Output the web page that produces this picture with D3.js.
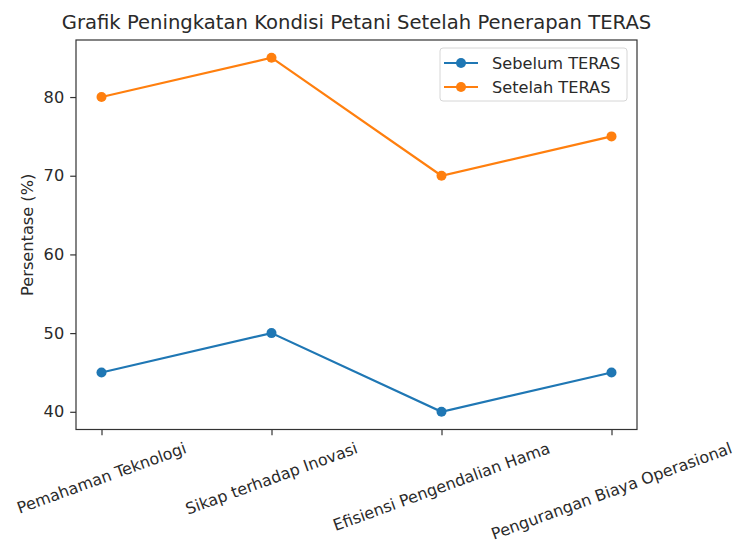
<!DOCTYPE html>
<html>
<head>
<meta charset="utf-8">
<script src="https://cdn.jsdelivr.net/npm/d3@7"></script>
<style>
body { margin: 0; background: #fff; }
text { font-family: "DejaVu Sans", sans-serif; fill: #2a2a2a; }
</style>
</head>
<body>
<div id="canvas"></div>
<script>
// DATA
var categories = ["Pemahaman Teknologi", "Sikap terhadap Inovasi", "Efisiensi Pengendalian Hama", "Pengurangan Biaya Operasional"];
var sebelum = [45, 50, 40, 45];
var setelah = [80, 85, 70, 75];
var y_ticks = [40, 50, 60, 70, 80];
var series_names = ["Sebelum TERAS", "Setelah TERAS"];
var series_colors = ["#1f77b4", "#ff7f0e"];

// STRUCTURE
var W = 737, H = 544;
var box = { left: 76, right: 637, top: 40, bottom: 429.5 };
var font_size = 16.2;
var xlabel_size = 15.9;
var tick_len = 5.8;

var svg = d3.select("#canvas").append("svg")
  .attr("width", W)
  .attr("height", H);

// matplotlib style 5% margins
var xScale = d3.scaleLinear()
  .domain([-0.15, categories.length - 1 + 0.15])
  .range([box.left, box.right]);

var yScale = d3.scaleLinear()
  .domain([40 - 2.25, 85 + 2.25])
  .range([box.bottom, box.top]);

// axes
var yAxis = d3.axisLeft(yScale)
  .tickValues(y_ticks)
  .tickSize(tick_len)
  .tickPadding(6);

var yg = svg.append("g")
  .attr("transform", `translate(${box.left},0)`)
  .call(yAxis);
yg.select(".domain").remove();
yg.selectAll("line").attr("stroke", "#333").attr("stroke-width", 1.2);
yg.selectAll("text").style("font-size", font_size + "px").attr("fill", "#2a2a2a").style("font-family", "DejaVu Sans");

var xAxis = d3.axisBottom(xScale)
  .tickValues(d3.range(categories.length))
  .tickSize(tick_len)
  .tickFormat("");

var xg = svg.append("g")
  .attr("transform", `translate(0,${box.bottom})`)
  .call(xAxis);
xg.select(".domain").remove();
xg.selectAll("line").attr("stroke", "#333").attr("stroke-width", 1.2);

// rotated x labels: centred on the tick, top of rotated box below tick
var angle = 20 * Math.PI / 180;
var label_top = 441;
categories.forEach(function (c, i) {
  var t = svg.append("text")
    .text(c)
    .style("font-size", xlabel_size + "px")
    .attr("text-anchor", "middle")
    .attr("dy", "0.35em");
  var w = t.node().getComputedTextLength();
  var h = xlabel_size * 0.85;
  var half = (w * Math.sin(angle) + h * Math.cos(angle)) / 2;
  t.attr("transform", `translate(${xScale(i)},${label_top + half}) rotate(-20)`);
});

// frame
svg.append("rect")
  .attr("x", box.left)
  .attr("y", box.top)
  .attr("width", box.right - box.left)
  .attr("height", box.bottom - box.top)
  .attr("fill", "none")
  .attr("stroke", "#333")
  .attr("stroke-width", 1.2);

// lines
var line = d3.line()
  .x((d, i) => xScale(i))
  .y(d => yScale(d));

[sebelum, setelah].forEach(function (s, k) {
  svg.append("path")
    .datum(s)
    .attr("d", line)
    .attr("fill", "none")
    .attr("stroke", series_colors[k])
    .attr("stroke-width", 2.2);
  svg.selectAll(null)
    .data(s)
    .enter()
    .append("circle")
    .attr("cx", (d, i) => xScale(i))
    .attr("cy", d => yScale(d))
    .attr("r", 5)
    .attr("fill", series_colors[k]);
});

// title
svg.append("text")
  .text("Grafik Peningkatan Kondisi Petani Setelah Penerapan TERAS")
  .attr("x", (box.left + box.right) / 2)
  .attr("y", 28.5)
  .attr("text-anchor", "middle")
  .style("font-size", "19.6px");

// y label
svg.append("text")
  .text("Persentase (%)")
  .attr("transform", `translate(33,${(box.top + box.bottom) / 2}) rotate(-90)`)
  .attr("text-anchor", "middle")
  .style("font-size", font_size + "px");

// legend
var lg = svg.append("g").attr("transform", "translate(440,48)");
lg.append("rect")
  .attr("width", 187)
  .attr("height", 53)
  .attr("rx", 3)
  .attr("fill", "#fff")
  .attr("fill-opacity", 0.8)
  .attr("stroke", "#d6d6d6")
  .attr("stroke-width", 1);

series_names.forEach(function (n, k) {
  var yy = 15 + k * 24;
  lg.append("line")
    .attr("x1", 4).attr("x2", 38)
    .attr("y1", yy).attr("y2", yy)
    .attr("stroke", series_colors[k])
    .attr("stroke-width", 2.2);
  lg.append("circle")
    .attr("cx", 21).attr("cy", yy).attr("r", 5)
    .attr("fill", series_colors[k]);
  lg.append("text")
    .text(n)
    .attr("x", 52).attr("y", yy)
    .attr("dy", "0.35em")
    .style("font-size", font_size + "px");
});
</script>
</body>
</html>
